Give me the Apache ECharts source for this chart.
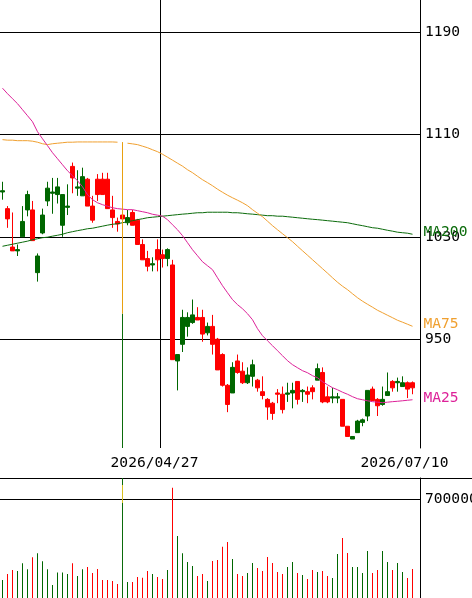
<!DOCTYPE html>
<html>
<head>
<meta charset="utf-8">
<script src="https://cdn.jsdelivr.net/npm/echarts@6/dist/echarts.min.js"></script>
<style>
  html, body { margin: 0; padding: 0; background: #fff; }
  #main { width: 472px; height: 598px; }
</style>
</head>
<body>
<div id="main"></div>
<script>
// trading days shown on the chart
const dates = [
  '2026/03/11','2026/03/12','2026/03/13','2026/03/16','2026/03/17','2026/03/18','2026/03/19','2026/03/23','2026/03/24','2026/03/25',
  '2026/03/26','2026/03/27','2026/03/30','2026/03/31','2026/04/01','2026/04/02','2026/04/03','2026/04/06','2026/04/07','2026/04/08',
  '2026/04/09','2026/04/10','2026/04/13','2026/04/14','2026/04/15','2026/04/16','2026/04/17','2026/04/20','2026/04/21','2026/04/22',
  '2026/04/23','2026/04/24','2026/04/27','2026/04/28','2026/04/30','2026/05/01','2026/05/07','2026/05/08','2026/05/11','2026/05/12',
  '2026/05/13','2026/05/14','2026/05/15','2026/05/18','2026/05/19','2026/05/20','2026/05/21','2026/05/22','2026/05/25','2026/05/26',
  '2026/05/27','2026/05/28','2026/05/29','2026/06/01','2026/06/02','2026/06/03','2026/06/04','2026/06/05','2026/06/08','2026/06/09',
  '2026/06/10','2026/06/11','2026/06/12','2026/06/15','2026/06/16','2026/06/17','2026/06/18','2026/06/19','2026/06/22','2026/06/23',
  '2026/06/24','2026/06/25','2026/06/26','2026/06/29','2026/06/30','2026/07/01','2026/07/02','2026/07/03','2026/07/06','2026/07/07',
  '2026/07/08','2026/07/09','2026/07/10'
];

// [open, close, low, high]
const candles = [
  [1065,1066,1059,1073],[1052,1044,1037,1054],[1022,1019,1019,1049],[1019,1020,1015,1024],[1030,1042,1030,1054],
  [1051,1063,1046,1066],[1051,1027,1027,1058],[1002,1015,995,1017],[1033,1047,1032,1052],[1058,1068,1054,1073],
  [1064,1065,1048,1076],[1063,1069,1056,1076],[1039,1063,1030,1063],[1053,1054,1047,1071],[1085,1076,1064,1088],
  [1068,1069,1062,1082],[1062,1077,1062,1084],[1075,1054,1054,1076],[1054,1043,1041,1062],[1075,1063,1058,1079],
  [1075,1063,1063,1080],[1075,1052,1052,1080],[1051,1045,1037,1062],[1042,1040,1034,1045],[1047,1044,1043,1049],
  [1041,1045,1039,1051],[1049,1039,1039,1051],[1043,1024,1024,1044],[1024,1012,1012,1028],[1013,1007,1003,1019],
  [1008,1009,1003,1014],[1020,1012,1003,1028],[1016,1013,1006,1020],[1013,1020,1007,1021],[1008,934,934,1012],
  [933,938,910,938],[946,967,940,973],[960,967,952,971],[963,969,962,981],[967,965,965,975],
  [967,954,948,973],[955,960,953,963],[960,946,938,969],[950,926,926,951],[938,914,913,939],
  [914,899,893,915],[908,928,908,932],[933,924,923,938],[925,916,915,932],[916,922,915,928],
  [921,930,913,934],[918,912,909,919],[909,906,903,921],[903,897,887,904],[900,892,887,901],
  [908,907,900,911],[907,895,892,913],[907,908,901,916],[908,910,896,916],[917,903,899,917],
  [909,910,901,911],[909,907,900,913],[912,909,903,914],[918,927,918,931],[924,901,900,928],
  [905,901,900,913],[904,905,900,912],[904,905,900,908],[903,882,882,903],[882,874,874,882],
  [872,874,872,874],[877,886,877,887],[885,887,882,888],[890,910,886,910],[911,902,902,913],
  [903,898,890,904],[899,903,898,913],[906,909,906,924],[917,912,909,918],[916,917,909,920],
  [913,916,913,921],[916,911,904,917],[916,912,907,917]
];

const volumes = [
  127000,170000,198000,191000,245000,203000,288000,316000,259000,203000,
  92000,181000,181000,170000,245000,156000,203000,219000,177000,205000,
  127000,127000,120000,99000,108000,113000,113000,148000,144000,191000,
  170000,148000,134000,198000,780000,438000,316000,255000,226000,156000,
  170000,120000,262000,269000,363000,396000,276000,170000,156000,177000,
  247000,212000,191000,290000,247000,184000,170000,219000,255000,177000,
  163000,134000,198000,184000,191000,156000,141000,311000,424000,318000,
  219000,219000,177000,332000,177000,198000,332000,255000,198000,247000,
  184000,141000,205000
];

const ma25 = [
  1146.1,1141.8,1137.9,1134.0,1129.3,1124.6,1119.9,1112.1,1106.6,1101.2,
  1095.7,1091.0,1086.3,1081.6,1077.7,1073.8,1069.1,1062.9,1059.0,1056.6,
  1055.1,1053.9,1052.7,1052.0,1051.6,1051.2,1051.2,1050.4,1049.6,1048.8,
  1047.6,1046.9,1046.1,1043.4,1039.4,1035.5,1030.9,1025.4,1019.9,1015.2,
  1010.5,1007.4,1004.3,998.0,991.8,986.3,980.9,977.0,973.8,969.9,
  965.2,958.2,952.7,948.8,944.9,941.0,937.1,933.2,930.1,927.7,
  925.4,923.8,921.5,919.9,916.8,914.4,912.1,910.5,908.6,907.0,
  905.1,903.5,902.7,901.9,901.2,900.8,900.4,900.8,901.2,901.5,
  901.9,902.3,902.7
];

const ma75 = [
  1105.9,1105.5,1105.5,1105.1,1105.1,1105.1,1104.7,1103.9,1102.7,1102.0,
  1102.7,1103.1,1103.5,1103.9,1103.9,1104.1,1104.1,1104.1,1104.1,1104.1,
  1104.1,1104.1,1104.1,1103.9,null,1103.1,1102.6,1102.0,1100.8,1099.6,
  1098.0,1096.5,1094.5,1092.2,1089.9,1087.5,1085.2,1082.4,1080.1,1077.3,
  1074.6,1072.3,1069.9,1067.2,1064.8,1062.5,1060.5,1058.6,1056.6,1054.3,
  1051.2,1048.4,1045.7,1042.2,1038.7,1035.5,1032.4,1029.3,1026.2,1022.6,
  1019.1,1015.6,1012.1,1008.6,1005.1,1001.6,998.0,994.5,991.4,988.7,
  985.5,982.4,979.7,977.3,975.0,972.6,970.7,968.7,966.8,964.8,
  963.3,961.7,960.1
];

const ma200 = [
  1022.6,1023.4,1024.2,1025.0,1025.8,1026.6,1027.7,1028.5,1029.3,1029.7,
  1030.5,1031.2,1032.0,1033.2,1034.0,1034.8,1035.5,1036.3,1036.7,1037.5,
  1038.3,1039.1,1039.8,1040.2,1041.0,1041.8,1042.6,1043.4,1044.1,1044.9,
  1045.3,1045.7,1046.1,1046.5,1046.9,1047.3,1047.7,1048.0,1048.4,1048.8,
  1048.8,1049.2,1049.2,1049.2,1049.2,1049.2,1048.8,1048.8,1048.4,1048.0,
  1047.7,1047.3,1046.9,1046.5,1046.5,1046.1,1046.1,1045.7,1045.3,1044.9,
  1044.5,1044.1,1043.7,1043.4,1043.0,1042.6,1042.2,1041.8,1041.4,1041.0,
  1040.2,1039.4,1038.7,1037.9,1037.1,1036.7,1035.9,1035.1,1034.4,1033.6,
  1033.2,1032.8,1032.0
];

const priceTicks = [950, 1030, 1110, 1190];
const volumeTicks = [700000];
const labelDates = ['2026/04/27', '2026/07/10'];
const dividerDate = '2026/04/27';
// the odd vertical stroke on 04/15
const glitchDate = '2026/04/15';
const glitchPrice = [1104, 970];
const glitchVolume = [799000, 672000];

const UP = '#006600';
const DOWN = '#ff0000';
const FONT = 'DejaVu Sans Mono';
const PRICE_MIN = 865, PRICE_MAX = 1215;

// one empty slot on the right, like the original
const axisDates = dates.concat(['']);

const chart = echarts.init(document.getElementById('main'));

const hiddenAxis = {
    axisLine: { show: false }, axisTick: { show: false },
    axisLabel: { show: false }, splitLine: { show: false }
};
const sepAxis = {
    type: 'value', gridIndex: 2, min: 0, max: 1,
    axisLine: { show: true, lineStyle: { color: '#000', width: 1 } },
    axisTick: { show: false }, axisLabel: { show: false }, splitLine: { show: false }
};
const tickLabel = {
    color: '#000',
    fontFamily: FONT,
    fontSize: 14.6,
    margin: 5,
    formatter: v => String(v)
};

function maSeries(name, data, color) {
    return {
        name: name,
        type: 'line',
        xAxisIndex: 0,
        yAxisIndex: 0,
        data: data,
        symbol: 'none',
        connectNulls: false,
        lineStyle: { color: color, width: 1 },
        endLabel: {
            show: true,
            formatter: name,
            color: color,
            fontFamily: FONT,
            fontSize: 14.6,
            distance: 11,
            offset: [0, -2]
        },
        z: 3
    };
}

const option = {
    animation: false,
    backgroundColor: '#fff',
    grid: [
        { left: 0, top: 0, width: 420, height: 448, outerBoundsMode: 'none' },
        { left: 0, top: 478, width: 420, height: 120, outerBoundsMode: 'none' },
        { left: 0, right: 0, top: 448, height: 30, outerBoundsMode: 'none' }
    ],
    xAxis: [
        {
            type: 'category',
            gridIndex: 0,
            data: axisDates,
            boundaryGap: true,
            axisLine: { show: false },
            axisTick: { show: false },
            axisLabel: {
                interval: (i, v) => labelDates.includes(v),
                color: '#000',
                fontFamily: FONT,
                fontSize: 14.6,
                margin: 8,
                padding: [0, 16, 0, 0]
            },
            // first and last lines are hidden, so only the divider remains
            splitLine: {
                show: true,
                showMinLine: false,
                showMaxLine: false,
                interval: (i, v) => i === 0 || v === dividerDate,
                lineStyle: { color: '#000', width: 1 }
            }
        },
        Object.assign({ type: 'category', gridIndex: 1, data: axisDates, boundaryGap: true }, hiddenAxis),
        Object.assign({}, sepAxis, { position: 'top' }),
        Object.assign({}, sepAxis, { position: 'bottom' })
    ],
    yAxis: [
        {
            type: 'value',
            gridIndex: 0,
            position: 'right',
            min: PRICE_MIN,
            max: PRICE_MAX,
            axisLine: { show: true, lineStyle: { color: '#000', width: 1 } },
            axisTick: { show: false, customValues: priceTicks },
            axisLabel: Object.assign({ customValues: priceTicks }, tickLabel),
            splitLine: { show: true, lineStyle: { color: '#000', width: 1 } }
        },
        {
            type: 'value',
            gridIndex: 1,
            position: 'right',
            min: 0,
            max: 848500,
            axisLine: { show: true, lineStyle: { color: '#000', width: 1 } },
            axisTick: { show: false, customValues: volumeTicks },
            axisLabel: Object.assign({ customValues: volumeTicks }, tickLabel),
            splitLine: { show: true, lineStyle: { color: '#000', width: 1 } }
        },
        Object.assign({ type: 'value', gridIndex: 2, min: 0, max: 1 }, hiddenAxis)
    ],
    series: [
        {
            name: 'price',
            type: 'candlestick',
            xAxisIndex: 0,
            yAxisIndex: 0,
            data: candles,
            barWidth: 4,
            itemStyle: {
                color: UP,
                color0: DOWN,
                borderColor: UP,
                borderColor0: DOWN,
                borderWidth: 1
            },
            markLine: {
                silent: true,
                symbol: ['none', 'none'],
                label: { show: false },
                data: [
                    [
                        { coord: [glitchDate, glitchPrice[1]], lineStyle: { color: '#0b6b0b', width: 1, type: 'solid' } },
                        { coord: [glitchDate, PRICE_MIN] }
                    ],
                    [
                        { coord: [glitchDate, glitchPrice[0]], lineStyle: { color: '#e8a010', width: 1, type: 'solid' } },
                        { coord: [glitchDate, glitchPrice[1]] }
                    ]
                ]
            },
            z: 2
        },
        maSeries('MA200', ma200, '#0b6b0b'),
        maSeries('MA75', ma75, '#f0a030'),
        maSeries('MA25', ma25, '#dd2299'),
        {
            name: 'volume',
            type: 'bar',
            xAxisIndex: 1,
            yAxisIndex: 1,
            barWidth: 1,
            data: volumes.map((v, i) => ({
                value: v,
                itemStyle: { color: candles[i][1] >= candles[i][0] ? UP : DOWN }
            })),
            markLine: {
                silent: true,
                symbol: ['none', 'none'],
                label: { show: false },
                data: [
                    { xAxis: glitchDate, lineStyle: { color: '#0b6b0b', width: 1, type: 'solid' } },
                    [
                        { coord: [glitchDate, glitchVolume[0]], lineStyle: { color: '#d8c020', width: 1, type: 'solid' } },
                        { coord: [glitchDate, glitchVolume[1]] }
                    ]
                ]
            }
        }
    ]
};

chart.setOption(option);
</script>
</body>
</html>
